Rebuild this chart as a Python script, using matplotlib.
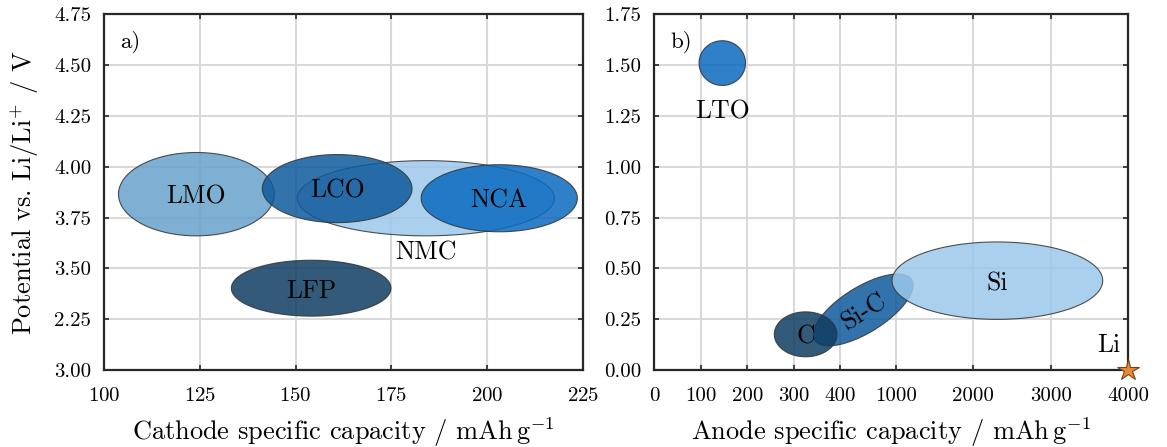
import numpy as np
import matplotlib
matplotlib.use("Agg")
import matplotlib.pyplot as plt

plt.rcParams.update({
    "font.family":        "serif",
    "font.serif":         ["cmr10"],
    "mathtext.fontset":   "cm",
    "axes.formatter.use_mathtext": True,
    "axes.unicode_minus": False,
    "figure.facecolor":   "white",
    "axes.facecolor":     "white",
    "axes.edgecolor":     "#262626",
    "axes.linewidth":     1.6,
    "xtick.color":        "#262626",
    "ytick.color":        "#262626",
    "xtick.labelcolor":   "black",
    "ytick.labelcolor":   "black",
    "text.color":         "black",
})

# Cathode materials: capacity range (mAh/g) and potential range (V vs Li/Li+)
cathodes        = ["LMO", "NMC", "LCO", "NCA", "LFP"]
cathode_cap_min = [103.7, 150.4, 141.3, 182.8, 133.2]
cathode_cap_max = [144.4, 217.6, 180.4, 223.6, 174.9]
cathode_v_min   = [3.66, 3.66, 3.725, 3.68, 3.265]
cathode_v_max   = [4.07, 4.03, 4.06, 4.01, 3.54]

# Anode materials
anodes        = ["Si-C", "C", "Si", "LTO"]
anode_cap_min = [342, 258, 957, 96]
anode_cap_max = [1220, 393, 3670, 196]
anode_v_min   = [0.119, 0.065, 0.249, 1.40]
anode_v_max   = [0.472, 0.286, 0.630, 1.62]

li_capacity  = 4000
li_potential = 0.0

cathode_yticks  = [3.00, 3.25, 3.50, 3.75, 4.00, 4.25, 4.50, 4.75]
cathode_ylabels = ["3.00", "2.25", "3.50", "3.75", "4.00", "4.25", "4.50", "4.75"]
cathode_xticks  = [100, 125, 150, 175, 200, 225]
anode_yticks    = [0.00, 0.25, 0.50, 0.75, 1.00, 1.25, 1.50, 1.75]
anode_xticks    = [0, 100, 200, 300, 400, 1000, 2000, 3000, 4000]

# fill colours and tilt of each region
COLORS = {
    "LMO": "#68a2cc", "LCO": "#0f5a9c", "NMC": "#9cc8ec", "NCA": "#0a6ac0",
    "LFP": "#0f3d62", "LTO": "#0a6ac0", "C": "#0f3d62", "Si-C": "#0f5a9c",
    "Si": "#9cc8ec",
}
TILT = {"Si-C": 32}
# labels placed under their region instead of in the middle (offset in pt)
BELOW = {"NMC": -3.5, "LTO": -10}


# compressed capacity axis: linear to 400, then squeezed
def cap_fwd(x):
    x = np.asarray(x, dtype=float)
    return np.where(x <= 400, x,
                    np.where(x <= 1000, 400 + (x - 400) / 5, 520 + (x - 1000) / 6))


def cap_inv(u):
    u = np.asarray(u, dtype=float)
    return np.where(u <= 400, u,
                    np.where(u <= 520, 400 + (u - 400) * 5, 1000 + (u - 520) * 6))


def region(ax, cap, volt, tilt, color):
    # ellipse is built in screen space so it stays round on the squeezed axis
    (x0, y0), (x1, y1) = ax.transData.transform([[cap[0], volt[0]], [cap[1], volt[1]]])
    cx, cy = (x0 + x1) / 2, (y0 + y1) / 2
    w, h = abs(x1 - x0) / 2, abs(y1 - y0) / 2
    th = np.deg2rad(tilt)
    c2, s2 = np.cos(th) ** 2, np.sin(th) ** 2
    if tilt:
        a = np.sqrt((w ** 2 * c2 - h ** 2 * s2) / (c2 - s2))
        b = np.sqrt((h ** 2 * c2 - w ** 2 * s2) / (c2 - s2))
    else:
        a, b = w, h
    t = np.linspace(0, 2 * np.pi, 361)
    px = cx + a * np.cos(t) * np.cos(th) - b * np.sin(t) * np.sin(th)
    py = cy + a * np.cos(t) * np.sin(th) + b * np.sin(t) * np.cos(th)
    inv = ax.transData.inverted()
    xy = inv.transform(np.column_stack([px, py]))
    ax.fill(xy[:, 0], xy[:, 1], facecolor=color, alpha=0.85,
            edgecolor="#333333", linewidth=0.8, zorder=2)
    return inv.transform([[cx, cy]])[0]


def label_regions(ax, names, cmin, cmax, vmin, vmax):
    for name, c0, c1, v0, v1 in zip(names, cmin, cmax, vmin, vmax):
        centre = region(ax, (c0, c1), (v0, v1), TILT.get(name, 0), COLORS[name])
        if name in BELOW:
            ax.annotate(name, (centre[0], v0), xytext=(0, BELOW[name]),
                        textcoords="offset points", ha="center", va="top",
                        fontsize=18.5, zorder=4)
        else:
            ax.text(centre[0], centre[1], name, ha="center", va="center_baseline",
                    rotation=TILT.get(name, 0), rotation_mode="anchor",
                    fontsize=18.5, zorder=4)


def style_axes(ax):
    ax.grid(True, color="#d9d9d9", linewidth=1.5)
    ax.set_axisbelow(True)
    ax.tick_params(direction="in", top=True, right=True, length=3.6, width=1.2,
                   labelsize=15)
    ax.tick_params(axis="x", pad=12)
    ax.tick_params(axis="y", pad=9.5)
    ax.minorticks_off()


fig = plt.figure(figsize=(11.67, 4.47), dpi=100)
ax1 = fig.add_axes([0.0894, 0.1723, 0.4099, 0.7957])
ax2 = fig.add_axes([0.5608, 0.1723, 0.4060, 0.7957])

# a) cathodes
ax1.set_xlim(100, 225)
ax1.set_ylim(3.0, 4.75)
ax1.set_xticks(cathode_xticks)
ax1.set_yticks(cathode_yticks, labels=cathode_ylabels)
style_axes(ax1)
label_regions(ax1, cathodes, cathode_cap_min, cathode_cap_max,
              cathode_v_min, cathode_v_max)
ax1.set_xlabel(r"Cathode specific capacity / mAh$\,$g$^{-1}$", fontsize=19)
ax1.set_ylabel(r"Potential vs. Li/Li$^{+}$ / V", fontsize=19)
ax1.xaxis.set_label_coords(0.5, -0.197)
ax1.xaxis.label.set_va("baseline")
ax1.yaxis.set_label_coords(-0.166, 0.5)
ax1.yaxis.label.set_va("center")
ax1.text(0.033, 0.955, "a)", transform=ax1.transAxes, ha="left", va="top",
         fontsize=16.5)

# b) anodes
ax2.set_xscale("function", functions=(cap_fwd, cap_inv))
ax2.set_xlim(0, 4000)
ax2.set_ylim(0, 1.75)
ax2.set_xticks(anode_xticks, labels=[str(v) for v in anode_xticks])
ax2.set_yticks(anode_yticks, labels=[f"{v:.2f}" for v in anode_yticks])
style_axes(ax2)
label_regions(ax2, anodes, anode_cap_min, anode_cap_max, anode_v_min, anode_v_max)
ax2.plot(li_capacity, li_potential, marker="*", markersize=16,
         markerfacecolor="#e8883a", markeredgecolor="#7a3f12",
         markeredgewidth=0.8, clip_on=False, zorder=5)
ax2.annotate("Li", (li_capacity, li_potential), xytext=(-13.9, 19.8),
             textcoords="offset points", ha="center", va="center_baseline",
             fontsize=18.5)
ax2.set_xlabel(r"Anode specific capacity / mAh$\,$g$^{-1}$", fontsize=19)
ax2.xaxis.set_label_coords(0.5, -0.197)
ax2.xaxis.label.set_va("baseline")
ax2.text(0.033, 0.955, "b)", transform=ax2.transAxes, ha="left", va="top",
         fontsize=16.5)

fig.savefig("out.png", dpi=100, facecolor="white")
